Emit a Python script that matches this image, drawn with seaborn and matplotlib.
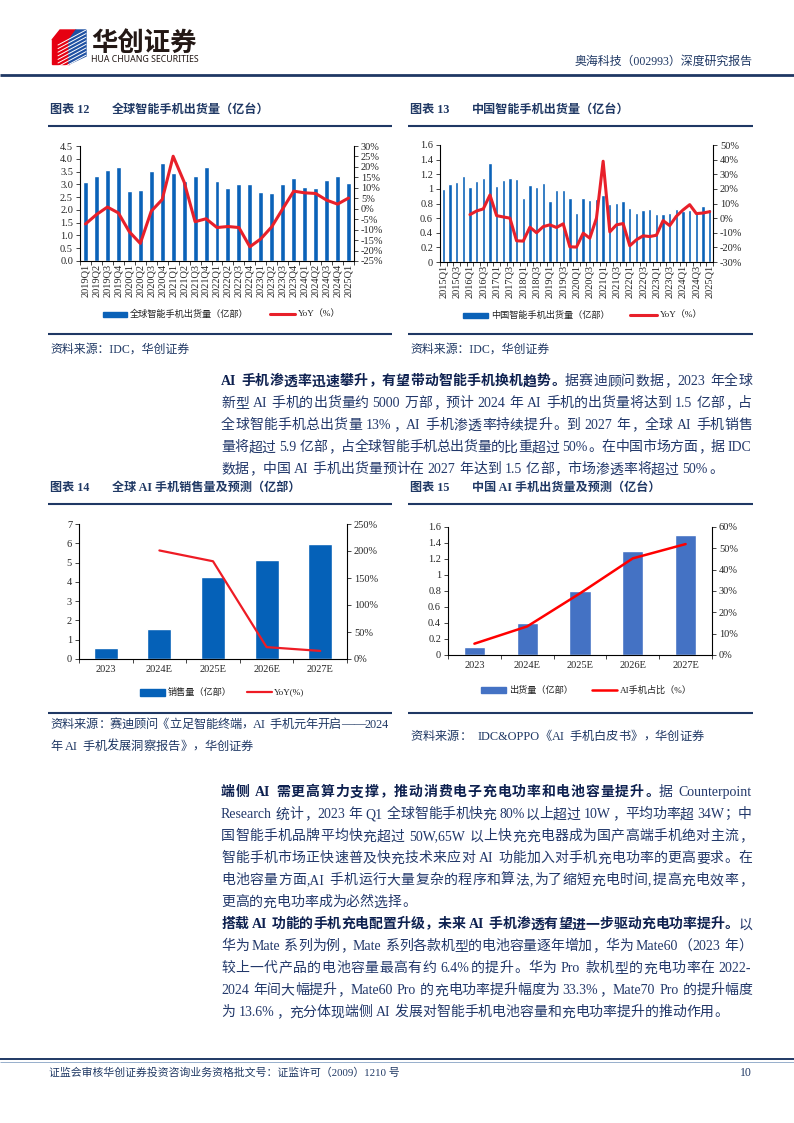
import re
import numpy as np
import matplotlib
matplotlib.use('Agg')
import matplotlib.pyplot as plt
import seaborn as sns
from matplotlib.lines import Line2D
from matplotlib.patches import Rectangle, Polygon

# ---------------- data ----------------
global_quarters = ['2019Q1', '2019Q2', '2019Q3', '2019Q4', '2020Q1', '2020Q2', '2020Q3', '2020Q4',
                   '2021Q1', '2021Q2', '2021Q3', '2021Q4', '2022Q1', '2022Q2', '2022Q3', '2022Q4',
                   '2023Q1', '2023Q2', '2023Q3', '2023Q4', '2024Q1', '2024Q2', '2024Q3', '2024Q4',
                   '2025Q1']
global_ship = [3.10, 3.33, 3.58, 3.69, 2.75, 2.78, 3.53, 3.85, 3.45, 3.13, 3.31, 3.67, 3.14, 2.86,
               3.01, 3.00, 2.69, 2.66, 3.03, 3.26, 2.89, 2.85, 3.16, 3.31, 3.05]
global_yoy = [-7.3, -2.8, 0.8, -2.0, -11.0, -16.6, -1.2, 4.4, 25.1, 12.8, -6.2, -4.8, -9.0, -8.5,
              -9.0, -18.2, -14.4, -8.6, 0.0, 8.4, 7.6, 7.3, 4.1, 2.2, 5.1]

china_quarters = ['2015Q1', '2015Q2', '2015Q3', '2015Q4', '2016Q1', '2016Q2', '2016Q3', '2016Q4',
                  '2017Q1', '2017Q2', '2017Q3', '2017Q4', '2018Q1', '2018Q2', '2018Q3', '2018Q4',
                  '2019Q1', '2019Q2', '2019Q3', '2019Q4', '2020Q1', '2020Q2', '2020Q3', '2020Q4',
                  '2021Q1', '2021Q2', '2021Q3', '2021Q4', '2022Q1', '2022Q2', '2022Q3', '2022Q4',
                  '2023Q1', '2023Q2', '2023Q3', '2023Q4', '2024Q1', '2024Q2', '2024Q3', '2024Q4',
                  '2025Q1']
china_ship = [1.00, 1.06, 1.09, 1.17, 1.02, 1.11, 1.15, 1.36, 1.04, 1.12, 1.15, 1.14,
              0.87, 1.05, 1.02, 1.08, 0.84, 0.98, 0.99, 0.87, 0.67, 0.88, 0.85, 0.86,
              0.92, 0.79, 0.81, 0.83, 0.74, 0.67, 0.71, 0.73, 0.65, 0.65, 0.67, 0.73,
              0.70, 0.71, 0.69, 0.76, 0.72]
china_yoy_start = '2016Q1'
china_yoy = [2.4, 4.9, 6.3, 15.8, 1.7, 0.8, 0.0, -15.5, -15.7, -6.2, -10.0, -5.8,
             -4.6, -6.4, -3.9, -19.6, -19.8, -10.3, -13.7, 0.0, 38.9, -9.4, -4.6, -3.7,
             -18.9, -14.8, -12.1, -12.6, -11.7, -1.7, -5.1, 1.3, 5.6, 9.2, 3.1, 3.5, 4.4]

ai_years = ['2023', '2024E', '2025E', '2026E', '2027E']
ai_global_sales = [0.55, 1.55, 4.25, 5.15, 5.95]
ai_global_yoy_years = ['2024E', '2025E', '2026E', '2027E']
ai_global_yoy = [201, 181, 22, 15]
ai_china_ship = [0.10, 0.40, 0.80, 1.30, 1.50]
ai_china_share = [5.3, 13.4, 28.9, 45.3, 52.0]

# ---------------- style ----------------
sns.set_style('ticks')
FAM = ['Liberation Serif', 'Noto Sans CJK SC']
plt.rcParams['font.family'] = FAM
plt.rcParams['axes.unicode_minus'] = False

W, H = 794, 1123
NAVY = '#1F3864'
BODY = '#22386A'
BOLD = '#0E2150'
BLUE = '#0B62B8'
BLUE2 = '#4472C4'
RED = '#E8202A'
TICK_FS = 7.5

fig = plt.figure(figsize=(W / 100, H / 100), dpi=100)


def fy(y):
    return 1 - y / H


def add_ax(l, t, r, b):
    return fig.add_axes([l / W, 1 - b / H, (r - l) / W, (b - t) / H])


def hline(x0, x1, y, lw, color=NAVY):
    fig.add_artist(Line2D([x0 / W, x1 / W], [fy(y), fy(y)], transform=fig.transFigure,
                          lw=lw, color=color, solid_capstyle='butt'))


renderer = fig.canvas.get_renderer()
_wc = {}


def ink_w(s, fs, weight):
    key = (s, fs, weight)
    if key not in _wc:
        t = fig.text(0, 0, s, fontsize=fs, fontweight=weight, family=FAM)
        _wc[key] = t.get_window_extent(renderer).width
        t.remove()
    return _wc[key]


TOK = re.compile(r'[\x21-\x7e]+| |[^\x00-\x7f]')
LEFT_INK = set('，。、：；）》”')
RIGHT_INK = set('（《“')


def text_line(y, x0, x1, segs, fs=10, justify=True):
    em = fs * 100 / 72
    units = []
    for s, weight, color in segs:
        for m in TOK.finditer(s):
            u = m.group()
            if u == ' ':
                w = em * 0.25
            elif ord(u[0]) > 127:
                w = em
            else:
                w = ink_w(u, fs, weight) + 0.8
            units.append((u, weight, color, w))
    total = sum(u[3] for u in units)
    gap = (x1 - x0 - total) / (len(units) - 1) if (justify and len(units) > 1) else 0
    x = x0
    base = y + em * 0.38
    for u, weight, color, w in units:
        if u != ' ':
            if ord(u[0]) > 127:
                if u in LEFT_INK:
                    xx, ha = x + em * 0.05, 'left'
                elif u in RIGHT_INK:
                    xx, ha = x + em * 0.95, 'right'
                else:
                    xx, ha = x + em / 2, 'center'
            else:
                xx, ha = x, 'left'
            fig.text(xx / W, fy(base), u, fontsize=fs, fontweight=weight, color=color,
                     family=FAM, ha=ha, va='baseline')
        x += w + gap


def legend_patch(x, y, w, h, color):
    fig.add_artist(Rectangle((x / W, fy(y + h / 2)), w / W, h / H, transform=fig.transFigure,
                             color=color))


def legend_line(x, y, w, color, lw):
    fig.add_artist(Line2D([x / W, (x + w) / W], [fy(y), fy(y)], transform=fig.transFigure,
                          color=color, lw=lw))


def legend_text(x, y, s, fs=6.6):
    fig.text(x / W, fy(y), s, fontsize=fs, family=FAM, color='#222222', ha='left', va='center')


def style_axes(ax, ax2, n):
    for a in (ax, ax2):
        a.spines['top'].set_visible(False)
        for sp in a.spines.values():
            sp.set_color('black')
            sp.set_linewidth(0.8)
    ax.spines['right'].set_visible(False)
    ax2.spines['left'].set_visible(False)
    ax2.spines['bottom'].set_visible(False)
    ax.set_xlim(-0.5, n - 0.5)
    ax.set_xticks(np.arange(-0.5, n, 1.0), minor=True)
    ax.tick_params(axis='x', which='major', length=0, pad=2, labelsize=TICK_FS)
    ax.tick_params(axis='x', which='minor', length=3, width=0.6, direction='out')
    ax.tick_params(axis='y', length=3, width=0.6, direction='out', labelsize=TICK_FS, pad=2)
    ax2.tick_params(axis='y', length=3, width=0.6, direction='out', labelsize=TICK_FS, pad=2)
    ax.set_xlabel('')
    ax.set_ylabel('')
    ax2.set_xlabel('')
    ax2.set_ylabel('')
    ax.grid(False)
    ax2.grid(False)


def num_label(v):
    s = f'{v:.1f}'
    return s[:-2] if s.endswith('.0') else s


# ---------------- header ----------------
fig.add_artist(Polygon([(52 / W, fy(40)), (69 / W, fy(40)), (69 / W, fy(64)), (52 / W, fy(64))],
                       closed=True, transform=fig.transFigure, color='#E60012'))
fig.add_artist(Polygon([(69 / W, fy(40)), (86 / W, fy(30)), (86 / W, fy(56)), (69 / W, fy(64))],
                       closed=True, transform=fig.transFigure, color='#1E50A2'))
fig.add_artist(Polygon([(52 / W, fy(40)), (60 / W, fy(30)), (76 / W, fy(30)), (69 / W, fy(40))],
                       closed=True, transform=fig.transFigure, color='#E60012'))
fig.add_artist(Polygon([(69 / W, fy(40)), (76 / W, fy(30)), (86 / W, fy(30))],
                       closed=True, transform=fig.transFigure, color='#1E50A2'))
for k in range(9):
    yy = 33 + k * 3.6
    fig.add_artist(Line2D([58 / W, 86 / W], [fy(yy + 12), fy(yy - 3)], transform=fig.transFigure,
                          color='white', lw=0.7))
fig.text(91 / W, fy(43), '华创证券', fontsize=19, fontweight='bold', color='#231815',
         family=['Noto Sans CJK SC'], ha='left', va='center')
fig.text(91 / W, fy(60), 'HUA CHUANG SECURITIES', fontsize=6.3, fontweight='bold', color='#231815',
         family=['Noto Sans'], ha='left', va='center')
fig.text(753 / W, fy(62), '奥海科技（002993）深度研究报告', fontsize=8.6, color=NAVY,
         family=FAM, ha='right', va='center')
hline(0, W, 75, 2.0)

# ---------------- chart titles ----------------
for x0, x1, y, num, title in [
        (50, 392, 110, '图表 12', '全球智能手机出货量（亿台）'),
        (410, 753, 110, '图表 13', '中国智能手机出货量（亿台）'),
        (50, 392, 488, '图表 14', '全球 AI 手机销售量及预测（亿部）'),
        (410, 753, 488, '图表 15', '中国 AI 手机出货量及预测（亿台）')]:
    fig.text(x0 / W, fy(y), num, fontsize=8.7, fontweight='bold', color=NAVY, family=FAM,
             ha='left', va='center')
    fig.text((x0 + 62) / W, fy(y), title, fontsize=8.7, fontweight='bold', color=NAVY, family=FAM,
             ha='left', va='center')
    hline(x0 - 2, x1, y + 16, 1.5)

# ---------------- chart 12 ----------------
ax = add_ax(80, 146, 354, 261)
n = len(global_quarters)
sns.barplot(x=global_quarters, y=global_ship, color=BLUE, width=0.45, saturation=1, ax=ax)
ax2 = ax.twinx()
sns.lineplot(x=np.arange(n), y=global_yoy, ax=ax2, color=RED, linewidth=2.2)
ax.set_ylim(0, 4.5)
yt = np.arange(0, 4.51, 0.5)
ax.set_yticks(yt)
ax.set_yticklabels([f'{v:.1f}' for v in yt])
ax2.set_ylim(-25, 30)
yt2 = np.arange(-25, 31, 5)
ax2.set_yticks(yt2)
ax2.set_yticklabels([f'{v}%' for v in yt2])
ax.set_xticks(np.arange(n))
ax.set_xticklabels(global_quarters, rotation=90)
style_axes(ax, ax2, n)

legend_patch(103, 314, 24, 5, BLUE)
legend_text(130, 314, '全球智能手机出货量（亿部）')
legend_line(270, 314, 25, RED, 2.2)
legend_text(298, 314, 'YoY（%）')

# ---------------- chart 13 ----------------
ax = add_ax(440, 145, 713, 262)
n = len(china_quarters)
sns.barplot(x=china_quarters, y=china_ship, color=BLUE, width=0.5, saturation=1, ax=ax)
ax2 = ax.twinx()
s0 = china_quarters.index(china_yoy_start)
sns.lineplot(x=np.arange(s0, s0 + len(china_yoy)), y=china_yoy, ax=ax2, color=RED, linewidth=2.2)
ax.set_ylim(0, 1.6)
yt = np.arange(0, 1.61, 0.2)
ax.set_yticks(yt)
ax.set_yticklabels([num_label(v) for v in yt])
ax2.set_ylim(-30, 50)
yt2 = np.arange(-30, 51, 10)
ax2.set_yticks(yt2)
ax2.set_yticklabels([f'{v}%' for v in yt2])
ax.set_xticks(np.arange(0, n, 2))
ax.set_xticklabels(china_quarters[::2], rotation=90)
style_axes(ax, ax2, n)

legend_patch(463, 315, 25, 5, BLUE)
legend_text(491, 315, '中国智能手机出货量（亿部）')
legend_line(630, 315, 27, RED, 2.2)
legend_text(660, 315, 'YoY（%）')

# sources 12/13
hline(48, 392, 334, 1.5)
hline(408, 753, 334, 1.5)
fig.text(50 / W, fy(350), '资料来源：IDC，华创证券', fontsize=8.6, color=NAVY, family=FAM,
         ha='left', va='center')
fig.text(410 / W, fy(350), '资料来源：IDC，华创证券', fontsize=8.6, color=NAVY, family=FAM,
         ha='left', va='center')

# ---------------- chart 14 ----------------
ax = add_ax(79, 524, 347, 659)
n = len(ai_years)
sns.barplot(x=ai_years, y=ai_global_sales, color='#0561B8', width=0.45, saturation=1, ax=ax)
ax2 = ax.twinx()
sns.lineplot(x=[ai_years.index(v) for v in ai_global_yoy_years], y=ai_global_yoy, ax=ax2,
             color='#EE1C25', linewidth=1.6)
ax.set_ylim(0, 7)
ax.set_yticks(range(0, 8))
ax.set_yticklabels([str(v) for v in range(0, 8)])
ax2.set_ylim(0, 250)
ax2.set_yticks(range(0, 251, 50))
ax2.set_yticklabels([f'{v}%' for v in range(0, 251, 50)])
ax.set_xticks(np.arange(n))
ax.set_xticklabels(ai_years)
style_axes(ax, ax2, n)
ax.tick_params(axis='x', which='major', pad=4)

legend_patch(140, 692, 25, 7, '#0561B8')
legend_text(168, 692, '销售量（亿部）')
legend_line(247, 692, 25, '#EE1C25', 1.6)
legend_text(274, 692, 'YoY(%)')

# ---------------- chart 15 ----------------
ax = add_ax(448, 527, 712, 655)
sns.barplot(x=ai_years, y=ai_china_ship, color=BLUE2, width=0.4, saturation=1, ax=ax)
ax2 = ax.twinx()
sns.lineplot(x=np.arange(n), y=ai_china_share, ax=ax2, color='#FF0000', linewidth=1.8)
ax.set_ylim(0, 1.6)
yt = np.arange(0, 1.61, 0.2)
ax.set_yticks(yt)
ax.set_yticklabels([num_label(v) for v in yt])
ax2.set_ylim(0, 60)
ax2.set_yticks(range(0, 61, 10))
ax2.set_yticklabels([f'{v}%' for v in range(0, 61, 10)])
ax.set_xticks(np.arange(n))
ax.set_xticklabels(ai_years)
style_axes(ax, ax2, n)
ax.tick_params(axis='x', which='major', pad=4)

legend_patch(481, 690, 25, 6, BLUE2)
legend_text(509, 690, '出货量（亿部）')
legend_line(592, 690, 25, '#FF0000', 1.8)
legend_text(620, 690, 'AI手机占比（%）')

# sources 14/15
hline(48, 392, 713, 1.5)
hline(408, 753, 713, 1.5)
text_line(723, 50, 390, [('资料来源：赛迪顾问《立足智能终端，AI 手机元年开启——2024', 'normal', NAVY)], fs=8.8)
text_line(745, 50, 390, [('年 AI 手机发展洞察报告》，华创证券', 'normal', NAVY)], fs=8.8, justify=False)
text_line(735, 410, 700, [('资料来源：  IDC&OPPO《AI 手机白皮书》，华创证券', 'normal', NAVY)], fs=8.8,
          justify=False)

# ---------------- body paragraphs ----------------
X0, X1 = 221, 752
para1 = [
    ([('AI 手机渗透率迅速攀升，有望带动智能手机换机趋势。', 'bold', BOLD),
      ('据赛迪顾问数据，2023 年全球', 'normal', BODY)], True),
    ([('新型 AI 手机的出货量约 5000 万部，预计 2024 年 AI 手机的出货量将达到 1.5 亿部，占', 'normal', BODY)], True),
    ([('全球智能手机总出货量 13%，AI 手机渗透率持续提升。到 2027 年，全球 AI 手机销售', 'normal', BODY)], True),
    ([('量将超过 5.9 亿部，占全球智能手机总出货量的比重超过 50%。在中国市场方面，据 IDC', 'normal', BODY)], True),
    ([('数据，中国 AI 手机出货量预计在 2027 年达到 1.5 亿部，市场渗透率将超过 50%。', 'normal', BODY)], False),
]
para2 = [
    ([('端侧 AI 需更高算力支撑，推动消费电子充电功率和电池容量提升。', 'bold', BOLD),
      ('据 Counterpoint', 'normal', BODY)], True),
    ([('Research 统计，2023 年 Q1 全球智能手机快充 80%以上超过 10W，平均功率超 34W；中', 'normal', BODY)], True),
    ([('国智能手机品牌平均快充超过 50W,65W 以上快充充电器成为国产高端手机绝对主流，', 'normal', BODY)], True),
    ([('智能手机市场正快速普及快充技术来应对 AI 功能加入对手机充电功率的更高要求。在', 'normal', BODY)], True),
    ([('电池容量方面,AI 手机运行大量复杂的程序和算法,为了缩短充电时间,提高充电效率，', 'normal', BODY)], True),
    ([('更高的充电功率成为必然选择。', 'normal', BODY)], False),
]
para3 = [
    ([('搭载 AI 功能的手机充电配置升级，未来 AI 手机渗透有望进一步驱动充电功率提升。', 'bold', BOLD),
      ('以', 'normal', BODY)], True),
    ([('华为 Mate 系列为例，Mate 系列各款机型的电池容量逐年增加，华为 Mate60（2023 年）', 'normal', BODY)], True),
    ([('较上一代产品的电池容量最高有约 6.4%的提升。华为 Pro 款机型的充电功率在 2022-', 'normal', BODY)], True),
    ([('2024 年间大幅提升，Mate60 Pro 的充电功率提升幅度为 33.3%，Mate70 Pro 的提升幅度', 'normal', BODY)], True),
    ([('为 13.6%，充分体现端侧 AI 发展对智能手机电池容量和充电功率提升的推动作用。', 'normal', BODY)], False),
]
for start, para in [(380, para1), (791, para2), (923, para3)]:
    for i, (segs, just) in enumerate(para):
        text_line(start + 22 * i, X0, X1, segs, fs=10, justify=just)

# ---------------- footer ----------------
hline(0, W, 1059, 1.4)
hline(0, W, 1062, 0.5, '#6F8FB8')
fig.text(49 / W, fy(1073), '证监会审核华创证券投资咨询业务资格批文号：证监许可（2009）1210 号', fontsize=7.8,
         color=NAVY, family=FAM, ha='left', va='center')
fig.text(752 / W, fy(1073), '10', fontsize=8.5, color=NAVY, family=FAM, ha='right', va='center')

fig.savefig('out.png', dpi=100)
